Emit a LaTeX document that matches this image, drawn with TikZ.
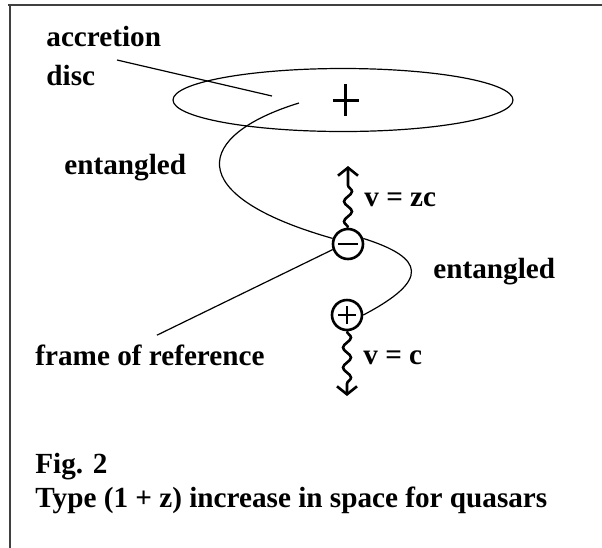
\documentclass[tikz,border=0pt]{standalone}
\usepackage{fontspec}
\setmainfont{Liberation Serif}
\usetikzlibrary{arrows.meta,positioning,shapes.geometric,decorations.pathmorphing}

\begin{document}
\begin{tikzpicture}[x=0.5pt, y=-0.5pt,
    lbl/.style={font=\fontsize{14.6}{16}\selectfont\bfseries, inner sep=0pt, anchor=west},
    charge/.style={draw, circle, line width=1.3pt, minimum size=15pt, inner sep=0pt},
    wavy/.style={line width=1.3pt, decorate, decoration={snake, amplitude=2pt, segment length=10pt, post length=5pt},
                 -{Straight Barb[length=4pt, width=10pt]}},
    link/.style={line width=0.6pt}]
    \useasboundingbox (0,0) rectangle (602,548);

    % Frame
    \draw[line width=1pt, black!75] (8,5) -- (602,5);
    \draw[line width=1pt, black!75] (10,5) -- (10,548);

    % Accretion disc
    \node[draw, ellipse, line width=0.6pt, minimum width=170pt, minimum height=31.5pt, inner sep=0pt] (disc) at (343,100) {};
    \coordinate (core) at (346,100);
    \draw[line width=1.5pt] (core) ++(-13,0) -- ++(26,0);
    \draw[line width=1.5pt] (core) ++(0,-16) -- ++(0,32);

    \node[lbl] (accr) at (46,37) {accretion};
    \node[lbl] (disclbl) at (46,76) {disc};
    \coordinate (ptrstart) at (117,60);
    \coordinate (ptrend) at (272,96);
    \draw[link] (ptrstart) -- (ptrend);

    % Charges
    \node[charge] (neg) at (348,244) {};
    \draw[line width=1pt] ([xshift=-5pt]neg.center) -- ([xshift=5pt]neg.center);
    \node[charge] (pos) at (347,315) {};
    \draw[line width=0.8pt] ([xshift=-4.5pt]pos.center) -- ([xshift=4.5pt]pos.center);
    \draw[line width=0.8pt] ([yshift=-4.5pt]pos.center) -- ([yshift=4.5pt]pos.center);

    % Wavy arrows
    \coordinate (uptip) at (348,166);
    \draw[wavy] (neg.north) -- (uptip);
    \coordinate (downtip) at (347,396);
    \draw[wavy] (pos.south) -- (downtip);
    \node[lbl] (vzc) at (364,200) {v = zc};
    \node[lbl] (vc) at (363,358) {v = c};

    % Entangled curves
    \node[lbl] (entL) at (64,168) {entangled};
    \node[lbl] (entR) at (433,272) {entangled};
    \coordinate (tangle) at (299,103);
    \draw[link] (tangle) .. controls (195,135) and (180,195) .. (neg.160);
    \draw[link] (neg.20) .. controls (425,258) and (430,280) .. (pos.east);

    % Frame of reference
    \node[lbl] (frameref) at (35,355) {frame of reference};
    \draw[link] (neg.200) -- ([shift={(7,-9)}]frameref.north);

    % Caption
    \node[lbl] (fig) at (35,467) {Fig. 2};
    \node[lbl] (caption) at (35,500) {Type (1 + z) increase in space for quasars};
\end{tikzpicture}
\end{document}
